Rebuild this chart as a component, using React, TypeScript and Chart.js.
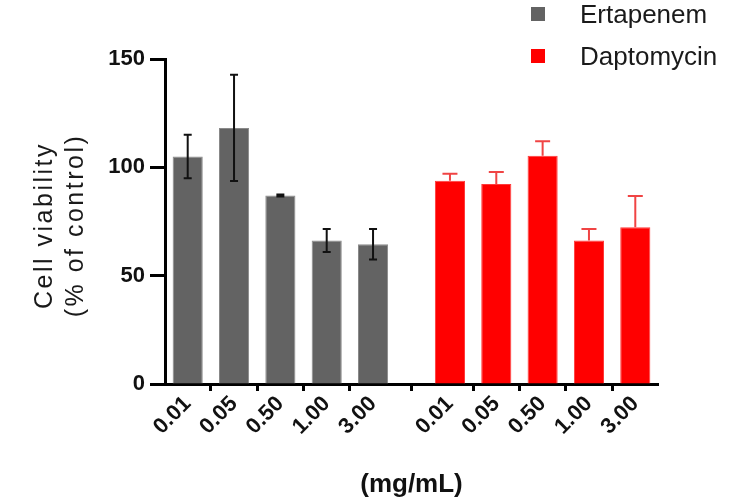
import { useEffect, useRef } from "react";
import { Chart, registerables } from "chart.js";

Chart.register(...registerables);

// ---- data ----
const concentrations = ["0.01", "0.05", "0.50", "1.00", "3.00"];
const seriesNames = ["Ertapenem", "Daptomycin"];
const ertapenemValues = [105, 118.2, 87, 66.2, 64.5];
const ertapenemErrors = [10, 24.5, 0.5, 5.3, 7];
const daptomycinValues = [93.8, 92.3, 105.4, 66.2, 72.3];
const daptomycinErrors = [3.2, 5.5, 6.6, 5.3, 14.5];
const yTicks = [0, 50, 100, 150];
const yTitleLines = ["Cell viability", "(% of control)"];
const xTitle = "(mg/mL)";

// ---- layout / style constants ----
const GROUP_OFFSET = 5.66; // start of second group, in bar-slot units
const FONT = '"Liberation Sans", Arial, Helvetica, sans-serif';
const GRAY = "#636363";
const RED = "#ff0000";

const ertX = concentrations.map((_, i) => i);
const dapX = concentrations.map((_, i) => i + GROUP_OFFSET);
const tickPositions = [...ertX, ...dapX];
const tickLabels = [...concentrations, ...concentrations];

const errorConfigs = [
  { values: ertapenemErrors, color: "#111111", lineWidth: 2, cap: 8, both: true },
  { values: daptomycinErrors, color: "#f04444", lineWidth: 2, cap: 15, both: false },
];

const errorBarPlugin = {
  id: "errorBars",
  afterDatasetsDraw(chart: any) {
    const ctx = chart.ctx;
    const yScale = chart.scales.y;
    chart.data.datasets.forEach((ds: any, di: number) => {
      const cfg = errorConfigs[di];
      if (!cfg) return;
      const meta = chart.getDatasetMeta(di);
      ctx.save();
      ctx.strokeStyle = cfg.color;
      ctx.lineWidth = cfg.lineWidth;
      meta.data.forEach((bar: any, i: number) => {
        const v = ds.data[i].y;
        const e = cfg.values[i];
        const x = bar.x;
        const yTop = yScale.getPixelForValue(v + e);
        const yBot = cfg.both ? yScale.getPixelForValue(v - e) : bar.y;
        ctx.beginPath();
        ctx.moveTo(x, yTop);
        ctx.lineTo(x, yBot);
        ctx.moveTo(x - cfg.cap / 2, yTop);
        ctx.lineTo(x + cfg.cap / 2, yTop);
        if (cfg.both) {
          ctx.moveTo(x - cfg.cap / 2, yBot);
          ctx.lineTo(x + cfg.cap / 2, yBot);
        }
        ctx.stroke();
      });
      ctx.restore();
    });
  },
};

const decorPlugin = {
  id: "decor",
  afterDraw(chart: any) {
    const ctx = chart.ctx;
    // custom legend (top right)
    ctx.save();
    chart.data.datasets.forEach((ds: any, i: number) => {
      const cy = 14 + i * 42;
      ctx.fillStyle = ds.backgroundColor;
      ctx.fillRect(531, cy - 7, 14, 14);
      ctx.fillStyle = "#1a1a1a";
      ctx.font = `26px ${FONT}`;
      ctx.textAlign = "left";
      ctx.textBaseline = "alphabetic";
      ctx.fillText(ds.label, 580, cy + 9);
    });
    ctx.restore();

    // y-axis title (two rotated lines with letter spacing)
    const centerY = (chart.chartArea.top + chart.chartArea.bottom) / 2 + 4;
    const baselines = [52, 83];
    yTitleLines.forEach((line, i) => {
      ctx.save();
      ctx.translate(baselines[i], centerY);
      ctx.rotate(-Math.PI / 2);
      ctx.fillStyle = "#1a1a1a";
      ctx.font = `25px ${FONT}`;
      (ctx as any).letterSpacing = "2.5px";
      ctx.textAlign = "center";
      ctx.textBaseline = "alphabetic";
      ctx.fillText(line, 0, 0);
      ctx.restore();
    });
  },
};

export default function App() {
  const canvasRef = useRef<HTMLCanvasElement | null>(null);

  useEffect(() => {
    if (!canvasRef.current) return;
    const chart = new Chart(canvasRef.current, {
      type: "bar",
      data: {
        datasets: [
          {
            label: seriesNames[0],
            data: ertapenemValues.map((y, i) => ({ x: ertX[i], y })),
            backgroundColor: GRAY,
            borderColor: "#8a8a8a",
            borderWidth: 1,
            barPercentage: 0.65,
            categoryPercentage: 1,
            grouped: false,
          } as any,
          {
            label: seriesNames[1],
            data: daptomycinValues.map((y, i) => ({ x: dapX[i], y })),
            backgroundColor: RED,
            borderColor: "#ff3a3a",
            borderWidth: 1,
            barPercentage: 0.65,
            categoryPercentage: 1,
            grouped: false,
          } as any,
        ],
      },
      options: {
        animation: false,
        responsive: false,
        layout: { padding: { left: 0, right: 92, top: 59, bottom: 0 } },
        plugins: {
          legend: { display: false },
          tooltip: { enabled: false },
        },
        scales: {
          x: {
            type: "linear",
            min: ertX[0] - 0.49,
            max: dapX[dapX.length - 1] + 0.49,
            offset: false,
            afterBuildTicks: (s: any) => {
              s.ticks = tickPositions.map((value) => ({ value }));
            },
            afterFit: (s: any) => {
              s.height = 117;
            },
            grid: {
              display: true,
              drawOnChartArea: false,
              drawTicks: true,
              tickLength: 7,
              tickWidth: 3,
              tickColor: "#000",
            },
            border: { display: true, color: "#000", width: 3 },
            ticks: {
              autoSkip: false,
              minRotation: 45,
              maxRotation: 45,
              padding: 0,
              color: "#111",
              font: { family: FONT, size: 22, weight: "bold" },
              callback: (_v: any, i: number) => tickLabels[i],
            },
            title: {
              display: true,
              text: xTitle,
              color: "#111",
              font: { family: FONT, size: 26, weight: "bold" },
              padding: { top: 0, bottom: 1 },
            },
          } as any,
          y: {
            min: 0,
            max: 150,
            afterBuildTicks: (s: any) => {
              s.ticks = yTicks.map((value) => ({ value }));
            },
            afterFit: (s: any) => {
              s.width = 165;
            },
            grid: {
              display: true,
              drawOnChartArea: false,
              drawTicks: true,
              tickLength: 15,
              tickWidth: 3,
              tickColor: "#000",
            },
            border: { display: true, color: "#000", width: 3 },
            ticks: {
              padding: 5,
              color: "#111",
              font: { family: FONT, size: 22, weight: "bold" },
            },
          } as any,
        },
      },
      plugins: [errorBarPlugin, decorPlugin],
    });
    return () => chart.destroy();
  }, []);

  return (
    <div style={{ position: "absolute", left: 0, top: 0, width: 750, height: 501, background: "#fff" }}>
      <canvas ref={canvasRef} width={750} height={501} style={{ width: 750, height: 501 }} />
    </div>
  );
}
